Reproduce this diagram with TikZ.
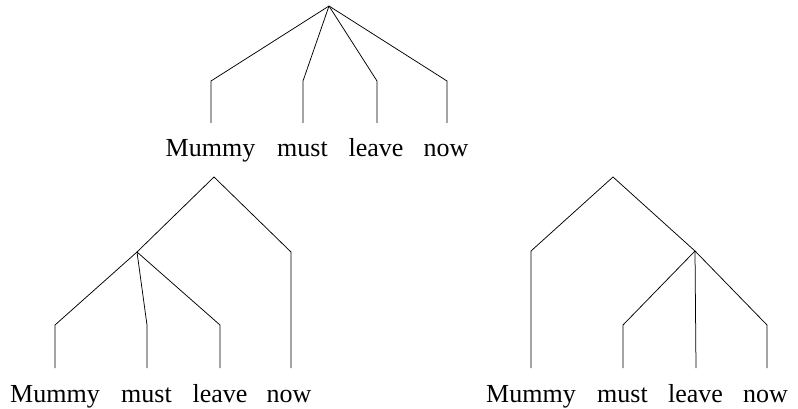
\documentclass[tikz,border=0pt]{standalone}
\usepackage{fontspec}
\setmainfont{Liberation Serif}
\begin{document}
\begin{tikzpicture}[x=1pt,y=-1pt,
  edge/.style={draw=black,line width=0.75pt,line join=miter},
  word/.style={anchor=base,inner sep=0pt,font=\fontsize{26}{30}\selectfont}]
\useasboundingbox (0,0) rectangle (798,409);
% ---------- top tree ----------
\coordinate (T) at (329,6);
\coordinate (Ta) at (211,81);  \coordinate (Ta2) at (211,123);
\coordinate (Tb) at (303,81);  \coordinate (Tb2) at (303,123);
\coordinate (Tc) at (377,81);  \coordinate (Tc2) at (377,123);
\coordinate (Td) at (447,81);  \coordinate (Td2) at (447,123);
\node[word] (tw1) at (210.5,157) {Mummy};
\node[word] (tw2) at (302.5,157) {must};
\node[word] (tw3) at (376,157) {leave};
\node[word] (tw4) at (446,157) {now};
\draw[edge] (T) -- (Ta) -- (Ta2);
\draw[edge] (T) -- (Tb) -- (Tb2);
\draw[edge] (T) -- (Tc) -- (Tc2);
\draw[edge] (T) -- (Td) -- (Td2);
% ---------- bottom left tree ----------
\coordinate (L) at (214,177);
\coordinate (LI) at (137,252);
\coordinate (Ld) at (291,252); \coordinate (Ld2) at (291,368);
\coordinate (La) at (55,325);  \coordinate (La2) at (55,368);
\coordinate (Lb) at (147,325); \coordinate (Lb2) at (147,368);
\coordinate (Lc) at (220,325); \coordinate (Lc2) at (220,368);
\node[word] (lw1) at (55,402) {Mummy};
\node[word] (lw2) at (146.5,402) {must};
\node[word] (lw3) at (220,402) {leave};
\node[word] (lw4) at (289,402) {now};
\draw[edge] (L) -- (LI);
\draw[edge] (L) -- (Ld) -- (Ld2);
\draw[edge] (LI) -- (La) -- (La2);
\draw[edge] (LI) -- (Lb) -- (Lb2);
\draw[edge] (LI) -- (Lc) -- (Lc2);
% ---------- bottom right tree ----------
\coordinate (R) at (613,177);
\coordinate (RI) at (695,251);
\coordinate (Ra) at (531,251); \coordinate (Ra2) at (531,368);
\coordinate (Rb) at (623,325); \coordinate (Rb2) at (623,368);
\coordinate (Rc2) at (696,368);
\coordinate (Rd) at (767,325); \coordinate (Rd2) at (767,368);
\node[word] (rw1) at (531,402) {Mummy};
\node[word] (rw2) at (622.5,402) {must};
\node[word] (rw3) at (695.5,402) {leave};
\node[word] (rw4) at (765.5,402) {now};
\draw[edge] (R) -- (Ra) -- (Ra2);
\draw[edge] (R) -- (RI);
\draw[edge] (RI) -- (Rb) -- (Rb2);
\draw[edge] (RI) -- (Rc2);
\draw[edge] (RI) -- (Rd) -- (Rd2);
\end{tikzpicture}
\end{document}
